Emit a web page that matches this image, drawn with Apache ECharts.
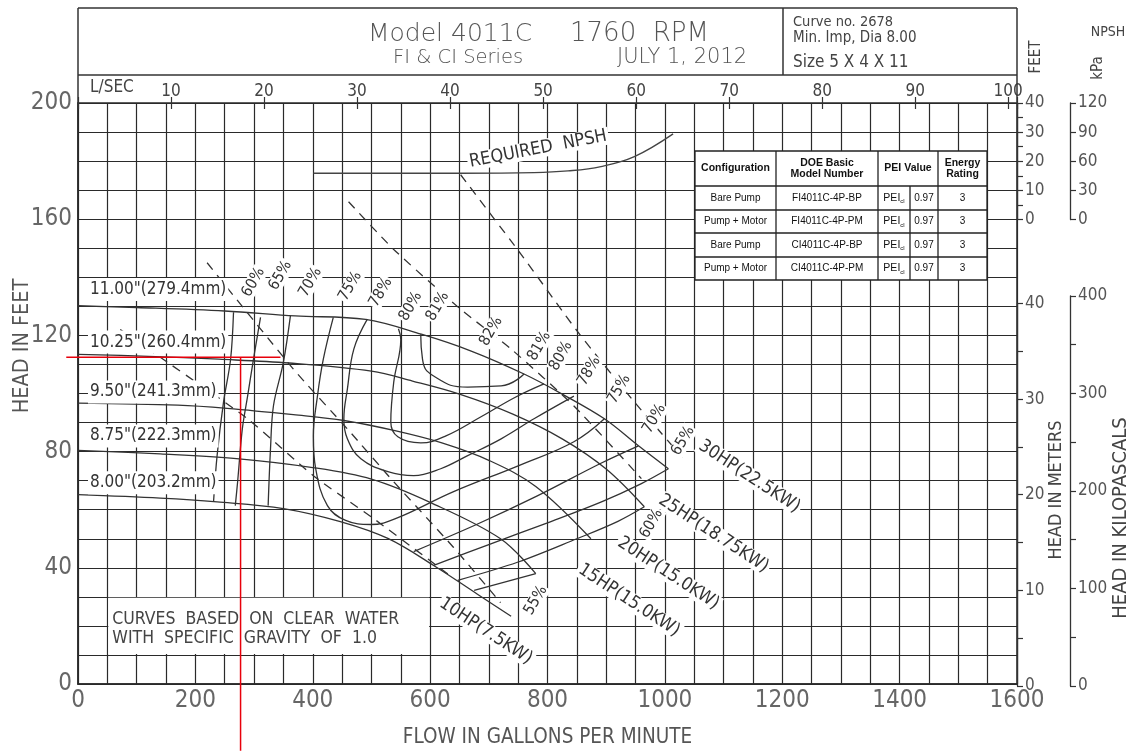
<!DOCTYPE html>
<html><head><meta charset="utf-8">
<script src="https://cdn.jsdelivr.net/npm/echarts@6/dist/echarts.min.js"></script>
<style>html,body{margin:0;padding:0;background:#fff}#chart{width:1133px;height:753px}</style>
</head><body><div id="chart"></div>
<script>
// ---------- DATA (flow in US gpm, head in ft) ----------
const dia1100 = [[0,130.2],[100,129.6],[250,128.4],[370,126.7],[490,125.5],[585,120.4],[670,114.6],[760,106.7],[825,99.8],[897,91.3],[955,82],[1006,74.1]];
const dia1025 = [[0,113.5],[120,112.8],[240,111.8],[360,110.5],[500,107.7],[570,104.3],[650,99.8],[740,93],[825,84.4],[900,74],[965,61]];
const dia950  = [[0,96.7],[170,96],[254,94.9],[367,92.7],[453,90.7],[540,87.2],[620,83],[700,77],[780,68],[874,50]];
const dia875  = [[0,80.4],[140,79.2],[270,77.6],[400,74.5],[500,70.5],[600,62.5],[720,50],[780,38]];
const dia800  = [[0,65.2],[140,64],[237,62.7],[350,60.4],[447,55.9],[528,50.1],[606,40.8],[680,31],[738,23.3]];

const eff60L = [[265,128],[260,111.8],[248,97.1],[237,78.6],[231,62.8]];
const eff60R = [[647,35.7],[750,42],[850,50],[920,56],[965,61]];
const eff65L = [[311,126.2],[299,111.8],[289,99.1],[280,87.8],[272,69.6],[268,61.4]];
const eff65R = [[606,40.8],[700,48],[800,55.5],[893,62.8],[960,69],[1006,74.1]];
const eff70L = [[362,126.8],[350,110.8],[333,95.7],[328,80.9],[324,61.4]];
const eff70R = [[572,45.6],[680,55],[780,64.5],[891,76],[955,82]];
const eff75  = [[435,126.2],[418,111.8],[408,99.1],[401,85.4],[405,74.1],[425,61.4],[456,56.3],[499,54.9],[541,56.9],[640,66.2],[750,75.1],[845,83.4],[897,91.3]];
const eff78  = [[493,125.6],[470,115.3],[459,101.5],[453,91.3],[459,84.4],[482,77.5],[528,73.1],[572,71.7],[618,74.1],[664,78.6],[721,84.4],[777,91.3],[845,99.1]];
const eff80  = [[546,122.3],[550,118.7],[538,103.9],[533,90.2],[545,85.1],[584,83],[627,85.4],[686,91.9],[746,98.8],[794,103.3]];
const eff81  = [[584,120.4],[587,111.8],[606,106],[664,102.2],[721,102.6],[760,106.7]];
const eff55R = [[675,32.2],[780,38]];

const dashA = [[220,145],[367,108.4],[459,87.8],[538,69.6],[640,47],[720,28]];
const dashB = [[72,122],[152,110.8],[289,91.3],[401,71.7],[504,56.9],[640,36.4]];
const dashC = [[461,166],[538,149.6],[652,129],[738,115.3],[845,95.7],[960,70.7]];
const dashD = [[652,175.3],[755,147.9],[852,121.1],[948,97.1],[1030,78]];

// required NPSH (flow gpm, NPSH ft)
const npshReq = [[401,15.9],[652,15.9],[777,16.1],[835,16.7],[891,18.2],[948,21.6],[1014,29.4]];

// selected duty point (red cross-hair)
const dutyFlow = 277, dutyHead = 112.5;

// labels: [flow, head, text]
const diaLabels = [[17,135.8,'11.00"(279.4mm)'],[17,117.7,'10.25"(260.4mm)'],[17,100.5,'9.50"(241.3mm)'],[17,85.4,'8.75"(222.3mm)'],[17,69.3,'8.00"(203.2mm)']];
const effLabels = [[299,138.3,'60%'],[345,140.6,'65%'],[396,138.3,'70%'],[464,136.9,'75%'],[516,134.8,'78%'],[567,130,'80%'],[613,130,'81%'],[704,121.4,'82%'],
  [786,116.3,'81%'],[823,112.9,'80%'],[871,107.7,'78%'],[922,101.5,'75%'],[982,91.3,'70%'],[1031,83.7,'65%'],[977,55.2,'60%'],[780,28.8,'55%']];
const hpLabels = [[1144,71.4,'30HP(22.5KW)'],[1083,51.8,'25HP(18.75KW)'],[1006,38.1,'20HP(15.0KW)'],[939,28.8,'15HP(15.0KW)'],[695,18.2,'10HP(7.5KW)']];

const tableHeader = ['Configuration','DOE Basic\nModel Number','PEI Value','Energy\nRating'];
const tableRows = [
  ['Bare Pump','FI4011C-4P-BP','0.97','3'],
  ['Pump + Motor','FI4011C-4P-PM','0.97','3'],
  ['Bare Pump','CI4011C-4P-BP','0.97','3'],
  ['Pump + Motor','CI4011C-4P-PM','0.97','3']
];
const GPM_PER_LPS = 15.8503;
const KPA_PER_FT = 2.989;
const FT_PER_M = 3.28084;

// ---------- CHART ----------
const FF = "'DejaVu Sans Condensed','DejaVu Sans',sans-serif";
const WF = "'DejaVu Sans',sans-serif";
const AF = "'Liberation Sans Narrow','DejaVu Sans Condensed',sans-serif";
const LINE = '#333';
const GRIDC = '#2a2a2a';
const chart = echarts.init(document.getElementById('chart'));

const GL = 78, GW = 939, GT = 103, GH = 583;
const pxPerFt = GH / 200;
const npshH = 40 * pxPerFt;
const mH = 40 * FT_PER_M * pxPerFt;
const kH = 400 / KPA_PER_FT * pxPerFt;

function curve(data, dashed, smooth) {
  return {type:'line', xAxisIndex:0, yAxisIndex:0, data:data, symbol:'none', smooth: smooth===undefined?0.35:smooth,
    silent:true, z:5,
    lineStyle:{color:LINE, width:1.3, type: dashed ? [9,7] : 'solid'}};
}
const rightAxisBase = (grid, max, interval, labelEvery, offset) => ({
  gridIndex:grid, type:'value', position:'right', offset:offset||0, min:0, max:max, interval:interval,
  axisLine:{show:true, onZero:false, lineStyle:{color:'#333', width:1.3}},
  axisTick:{show:true, length:6, lineStyle:{color:'#333', width:1.2}},
  axisLabel:{fontSize:17, color:'#555', fontFamily:FF, margin:8,
    formatter: v => (Math.abs(v % labelEvery) < 1e-6) ? String(v) : ''},
  splitLine:{show:false}
});
const hiddenX = gi => ({gridIndex:gi, type:'value', min:0, max:1600, show:false, axisLine:{onZero:false}});

const option = {
  animation:false,
  backgroundColor:'#fff',
  grid:[
    {left:GL, top:GT, width:GW, height:GH, show:true, borderColor:GRIDC, borderWidth:1.5},
    {left:GL, top:GT, width:GW, height:npshH},
    {left:GL, top:GT+GH-mH, width:GW, height:mH},
    {left:GL, top:GT+GH-kH, width:GW, height:kH}
  ],
  xAxis:[
    {gridIndex:0, type:'value', min:0, max:1600, interval:200,
     axisLine:{show:true, onZero:false, lineStyle:{color:GRIDC, width:1.5}}, axisTick:{show:false},
     axisLabel:{fontSize:24, color:'#666', fontFamily:AF, margin:5, formatter: v => String(v)},
     splitLine:{show:true, lineStyle:{color:GRIDC, width:1.2}},
     minorTick:{show:false, splitNumber:4},
     minorSplitLine:{show:true, lineStyle:{color:GRIDC, width:1.2}},
     name:'FLOW IN GALLONS PER MINUTE', nameLocation:'middle', nameGap:43,
     nameTextStyle:{fontSize:20.5, color:'#555', fontFamily:AF}},
    {gridIndex:0, type:'value', position:'top', min:0, max:1600/GPM_PER_LPS, interval:10,
     axisLine:{show:false, onZero:false}, axisTick:{show:true, length:6, lineStyle:{color:'#333', width:1.2}},
     axisLabel:{fontSize:17, color:'#444', fontFamily:AF, margin:3,
       formatter: v => (v > 0 && Math.abs(v % 10) < 1e-6) ? String(v) : ''},
     splitLine:{show:false}},
    {gridIndex:0, type:'value', position:'top', min:0, max:1600/GPM_PER_LPS, interval:10,
     axisLine:{show:false, onZero:false}, axisTick:{show:true, inside:true, length:6, lineStyle:{color:'#333', width:1.2}},
     axisLabel:{show:false}, splitLine:{show:false}},
    hiddenX(1), hiddenX(2), hiddenX(3)
  ],
  yAxis:[
    {gridIndex:0, type:'value', min:0, max:200, interval:40,
     axisLine:{show:true, onZero:false, lineStyle:{color:GRIDC, width:1.5}}, axisTick:{show:false},
     axisLabel:{fontSize:24, color:'#666', fontFamily:AF, margin:6},
     splitLine:{show:true, lineStyle:{color:GRIDC, width:1.2}},
     minorTick:{show:false, splitNumber:4},
     minorSplitLine:{show:true, lineStyle:{color:GRIDC, width:1.2}}},
    rightAxisBase(1, 40, 5, 10, 0),
    rightAxisBase(1, 120, 30, 30, 53),
    rightAxisBase(2, 40, 5, 10, 0),
    rightAxisBase(3, 400, 50, 100, 53)
  ],
  series:[
    curve(dia1100), curve(dia1025), curve(dia950), curve(dia875), curve(dia800),
    curve(eff60L), curve(eff60R), curve(eff65L), curve(eff65R), curve(eff70L), curve(eff70R),
    curve(eff75, false, 0.4), curve(eff78, false, 0.4), curve(eff80, false, 0.4), curve(eff81, false, 0.5), curve(eff55R),
    curve(dashA, true, 0.2), curve(dashB, true, 0.2), curve(dashC, true, 0.2), curve(dashD, true, 0.2),
    {type:'line', xAxisIndex:3, yAxisIndex:1, data:npshReq, symbol:'none', smooth:0.4, silent:true,
     lineStyle:{color:'#444', width:1.3}}
  ]
};
chart.setOption(option);

// ---------- annotations ----------
const P = (x, y) => chart.convertToPixel({xAxisIndex:0, yAxisIndex:0}, [x, y]);
const PN = (x, y) => chart.convertToPixel({xAxisIndex:3, yAxisIndex:1}, [x, y]);
const g = [];
function txt(x, y, text, size, opt) {
  opt = opt || {};
  g.push({type:'text', x:x, y:y, rotation:opt.rot||0, z:opt.z||100,
    style:Object.assign({text:text, fontSize:size, fontFamily:opt.ff||FF, fill:opt.fill||'#333',
      align:opt.align||'left', verticalAlign:opt.va||'middle', fontWeight:opt.fw||'normal'}, opt.bg ? {backgroundColor:'#fff', padding:opt.pad||[1,3]} : {})});
}
function line(x1, y1, x2, y2, color, w, z) {
  g.push({type:'line', z:z||100, shape:{x1:x1, y1:y1, x2:x2, y2:y2}, style:{stroke:color||'#333', lineWidth:w||1.3}});
}
// header box
const right = GL + GW;
line(GL, 8, right, 8, '#333', 1.5);
line(GL, 8, GL, GT, '#333', 1.5);
line(right, 8, right, GT, '#333', 1.5);
line(GL, 75, right, 75, '#333', 1.5);
line(783, 8, 783, 75, '#333', 1.5);
txt(368, 34, 'Model 4011C', 25, {fill:'#555', ff:WF, fw:200});
txt(570, 34, '1760  RPM', 26, {fill:'#555', ff:WF, fw:200});
txt(393, 58, 'FI & CI Series', 19.5, {fill:'#555', ff:WF, fw:200});
txt(617, 58, 'JULY 1, 2012', 21, {fill:'#555', ff:WF, fw:200});
txt(793, 22, 'Curve no. 2678', 14.5, {fill:'#444'});
txt(793, 38, 'Min. Imp, Dia 8.00', 15, {fill:'#444'});
txt(793, 63, 'Size 5 X 4 X 11', 17, {fill:'#444'});
txt(90, 88, 'L/SEC', 17, {fill:'#444', ff:AF});
txt(1108, 32, 'NPSH', 14, {fill:'#444', align:'center'});
txt(1036, 57, 'FEET', 15, {fill:'#444', align:'center', rot:Math.PI/2});
txt(1098, 68, 'kPa', 15, {fill:'#444', align:'center', rot:Math.PI/2});
// axis titles
txt(22, 346, 'HEAD IN FEET', 21.5, {fill:'#555', align:'center', rot:Math.PI/2, ff:AF});
txt(1056, 490, 'HEAD IN METERS', 18, {fill:'#444', align:'center', rot:Math.PI/2, ff:AF});
txt(1121, 518, 'HEAD IN KILOPASCALS', 20, {fill:'#444', align:'center', rot:Math.PI/2, ff:AF});

// diameter labels
diaLabels.forEach(d => { const p = P(d[0], d[1]); txt(p[0], p[1], d[2], 17, {bg:true, pad:[3,2]}); });
// efficiency labels
effLabels.forEach(d => { const p = P(d[0], d[1]); txt(p[0], p[1], d[2], 15.5, {bg:true, align:'center', rot:1.05, pad:[0,1]}); });
// HP labels
hpLabels.forEach(d => { const p = P(d[0], d[1]); txt(p[0], p[1], d[2], 18, {bg:true, align:'center', rot:-0.58, pad:[0,2]}); });
// NPSH label
{ const p = PN(784, 24.2); txt(p[0], p[1], 'REQUIRED  NPSH', 18, {bg:true, align:'center', rot:0.19, pad:[0,2]}); }
// note box
{ const a = P(50, 30), b = P(600, 10);
  g.push({type:'rect', z:90, shape:{x:a[0]+1, y:a[1]+1, width:b[0]-a[0]-2, height:b[1]-a[1]-2}, style:{fill:'#fff'}});
  txt(a[0]+5, a[1]+23, 'CURVES  BASED  ON  CLEAR  WATER', 17.5, {fill:'#444'});
  txt(a[0]+5, a[1]+42, 'WITH  SPECIFIC  GRAVITY  OF  1.0', 17.5, {fill:'#444'});
}
// table
{ const colX = [695, 776, 878, 938, 987], rowY = [151, 186, 210, 233, 257, 280], peiSplit = 910;
  g.push({type:'rect', z:110, shape:{x:colX[0], y:rowY[0], width:colX[4]-colX[0], height:rowY[5]-rowY[0]}, style:{fill:'#fff', stroke:'#222', lineWidth:1.3}});
  rowY.slice(1,5).forEach(y => line(colX[0], y, colX[4], y, '#222', 1.3, 111));
  colX.slice(1,4).forEach(x => line(x, rowY[0], x, rowY[5], '#222', 1.3, 111));
  line(peiSplit, rowY[1], peiSplit, rowY[5], '#222', 1.3, 111);
  const TF = "'Liberation Sans',Arial,sans-serif";
  tableHeader.forEach((h, i) => txt((colX[i]+colX[i+1])/2, (rowY[0]+rowY[1])/2, h, 10.5, {ff:TF, fw:'bold', align:'center', fill:'#111', z:112}));
  tableRows.forEach((r, j) => {
    const cy = (rowY[j+1]+rowY[j+2])/2;
    txt((colX[0]+colX[1])/2, cy, r[0], 10, {ff:TF, align:'center', fill:'#111', z:112});
    txt((colX[1]+colX[2])/2, cy, r[1], 10, {ff:TF, align:'center', fill:'#111', z:112});
    g.push({type:'text', x:(colX[2]+peiSplit)/2, y:cy, z:112, style:{text:'{a|PEI}{b|cl}', align:'center', verticalAlign:'middle',
      rich:{a:{fontSize:10.5, fontFamily:TF, fill:'#111'}, b:{fontSize:6, fontFamily:TF, fill:'#111', padding:[7,0,0,0]}}}});
    txt((peiSplit+colX[3])/2, cy, r[2], 10, {ff:TF, align:'center', fill:'#111', z:112});
    txt((colX[3]+colX[4])/2, cy, r[3], 10, {ff:TF, align:'center', fill:'#111', z:112});
  });
}
// red duty cross-hair
{ const d = P(dutyFlow, dutyHead), l = P(-20, dutyHead), r = P(345, dutyHead), bt = P(dutyFlow, -23);
  line(l[0], d[1], r[0], d[1], '#e8000b', 1.5, 200);
  line(d[0], d[1], d[0], bt[1], '#e8000b', 1.5, 200);
}
chart.setOption({graphic:g});
</script>
</body></html>
